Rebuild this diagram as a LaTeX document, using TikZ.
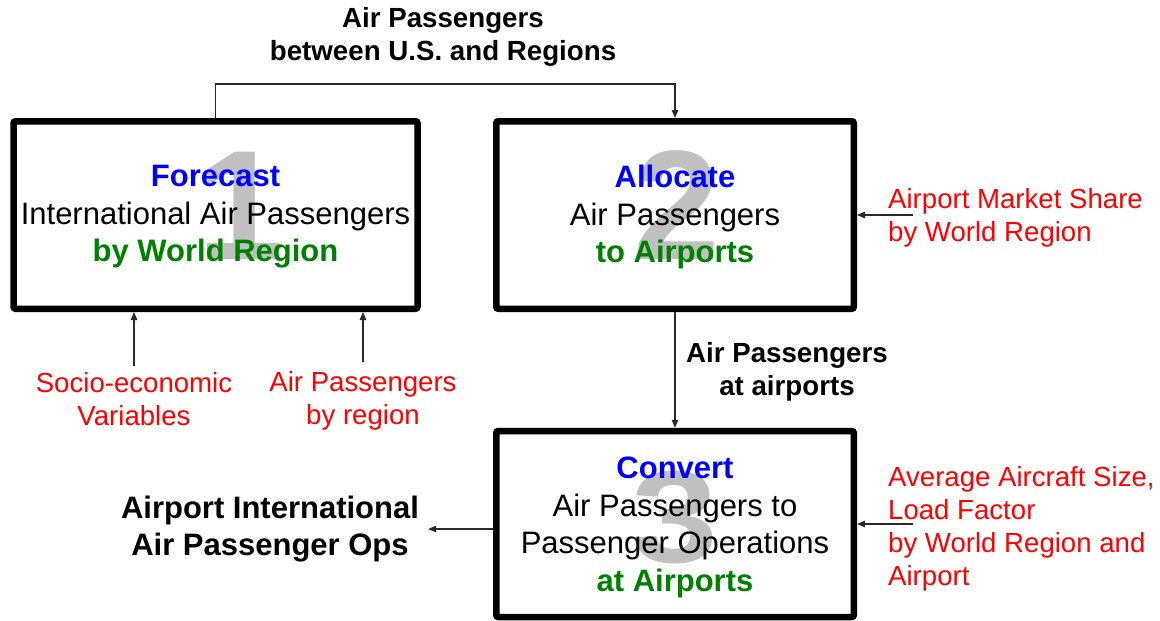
\documentclass[tikz,border=0pt]{standalone}
\usepackage{fontspec}
\setmainfont{Liberation Sans}
\usetikzlibrary{arrows.meta}
\definecolor{stepblue}{RGB}{0,0,255}
\definecolor{stepgreen}{RGB}{0,128,0}
\definecolor{inred}{RGB}{255,0,0}
\definecolor{numgray}{RGB}{192,192,192}
\definecolor{wire}{RGB}{40,40,40}

\begin{document}
\begin{tikzpicture}[x=1pt,y=-1pt,
  stagebox/.style={draw=black, line width=6.5pt, rounded corners=2pt, fill=white,
                   minimum width=357.5pt, minimum height=187.5pt, inner sep=0pt},
  numeral/.style={text=numgray, font=\fontsize{156}{156}\selectfont\bfseries, inner sep=0pt, yshift=9.5pt},
  stagetext/.style={align=center, font=\fontsize{31}{37.5}\selectfont, inner sep=0pt},
  flowlabel/.style={align=center, font=\fontsize{27.7}{32.5}\selectfont\bfseries, inner sep=0pt},
  inputlabel/.style={text=inred, font=\fontsize{27.6}{33}\selectfont, inner sep=3pt},
  outlabel/.style={align=center, font=\fontsize{31}{37.5}\selectfont\bfseries, inner ysep=0pt, inner xsep=9pt},
  conn/.style={draw=wire, line width=1.2pt, -{Triangle[length=8pt,width=6.5pt]}}
]
\useasboundingbox (0,0) rectangle (1160,621);

% the three processing stages
\node[stagebox, minimum width=404pt] (b1) at (215.5,215) {};
\node[numeral, xshift=25pt] (n1) at (b1) {1};
\node[stagetext] (t1) at (215.5,217) {{\color{stepblue}\bfseries Forecast}\\International Air Passengers\\{\color{stepgreen}\bfseries by World Region}};

\node[stagebox] (b2) at (675,215) {};
\node[numeral, xshift=2pt] (n2) at (b2) {2};
\node[stagetext] (t2) at (675,217) {{\color{stepblue}\bfseries Allocate}\\Air Passengers\\{\color{stepgreen}\bfseries to Airports}};

\node[stagebox, minimum height=186pt] (b3) at (675,524) {};
\node[numeral, yshift=-3pt] (n3) at (b3) {\scalebox{1}[0.84]{3}};
\node[stagetext] (t3) at (675,527.5) {{\color{stepblue}\bfseries Convert}\\Air Passengers to\\Passenger Operations\\{\color{stepgreen}\bfseries at Airports}};

% flows between stages
\node[flowlabel] (ttl) at (443,37) {Air Passengers\\between U.S. and Regions};
\draw[conn] (b1.north) -- ++(0,-34) -| (b2.north);

\node[flowlabel] (lab23) at (787,372) {Air Passengers\\at airports};
\draw[conn] (b2.south) -- (b3.north);

% external inputs
\node[inputlabel, inner ysep=6pt, align=center, anchor=north] (se) at (134,366) {Socio-economic\\Variables};
\node[inputlabel, inner ysep=9pt, align=center, anchor=north] (apr) at (363,362) {Air Passengers\\by region};
\draw[conn] (se.north) -- (se.north |- b1.south);
\draw[conn] (apr.north) -- (apr.north |- b1.south);

\node[inputlabel, align=left, anchor=west] (ms) at (885,217.5) {Airport Market Share\\by World Region};
\draw[conn] (ms.west |- b2.east) ++(28,0) -- (b2.east);

\node[inputlabel, align=left, anchor=west] (alf) at (885,528.5) {Average Aircraft Size,\\Load Factor\\by World Region and\\Airport};
\draw[conn] (alf.west |- b3.east) ++(28,0) -- (b3.east);

% final output
\node[outlabel] (ops) at (270,529) {Airport International\\Air Passenger Ops};
\draw[conn] (ops.east -| b3.west) -- (ops.east);
\end{tikzpicture}
\end{document}
